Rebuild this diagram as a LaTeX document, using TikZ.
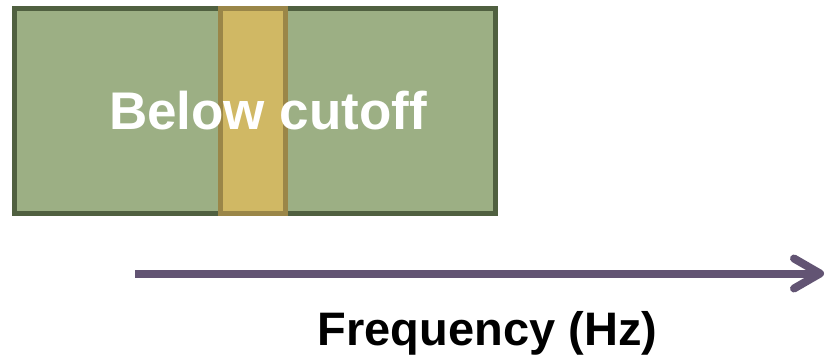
\documentclass[tikz,border=0pt]{standalone}
\usepackage{fontspec}
\setmainfont{Liberation Sans}
\usepackage{tikz}
\usetikzlibrary{arrows.meta,positioning}
\definecolor{bandfill}{RGB}{156,175,132}
\definecolor{banddraw}{RGB}{80,96,64}
\definecolor{cutfill}{RGB}{208,184,100}
\definecolor{cutdraw}{RGB}{154,134,72}
\definecolor{axiscol}{RGB}{98,84,115}
\tikzset{band/.style={
    draw=banddraw, fill=bandfill, line width=5pt,
    minimum width=481pt, minimum height=205pt,
    inner sep=0pt, outer sep=0pt
  },
  cutstrip/.style={
    draw=cutdraw, fill=cutfill, line width=5pt,
    minimum width=65pt, minimum height=205pt,
    inner sep=0pt, outer sep=0pt
  },
  freqaxis/.style={
    draw=axiscol, line width=8pt,
    -{Straight Barb[round, length=26pt, width=30pt]}
  },
  bigtext/.style={
    font=\bfseries\fontsize{53}{60}\selectfont, inner sep=0pt
  },
  axislabel/.style={
    font=\bfseries\fontsize{47}{54}\selectfont, inner sep=0pt
  }
}

\begin{document}
\begin{tikzpicture}[x=1pt, y=-1pt]
    \useasboundingbox (0,0) rectangle (829,358);

    \node[band] (belowband) at (255,111) {};
    \node[cutstrip] (cutoff) at (252.5,111) {};
    \node[bigtext, white, anchor=base] (belowtext) at (268,130) {Below cutoff};

    \coordinate (axisstart) at (135,273.5);
    \coordinate (axisend) at (824,273.5);
    \draw[freqaxis] (axisstart) -- (axisend);

    \node[axislabel, anchor=base] (freqtext) at (487.5,345) {Frequency (Hz)};
\end{tikzpicture}
\end{document}
